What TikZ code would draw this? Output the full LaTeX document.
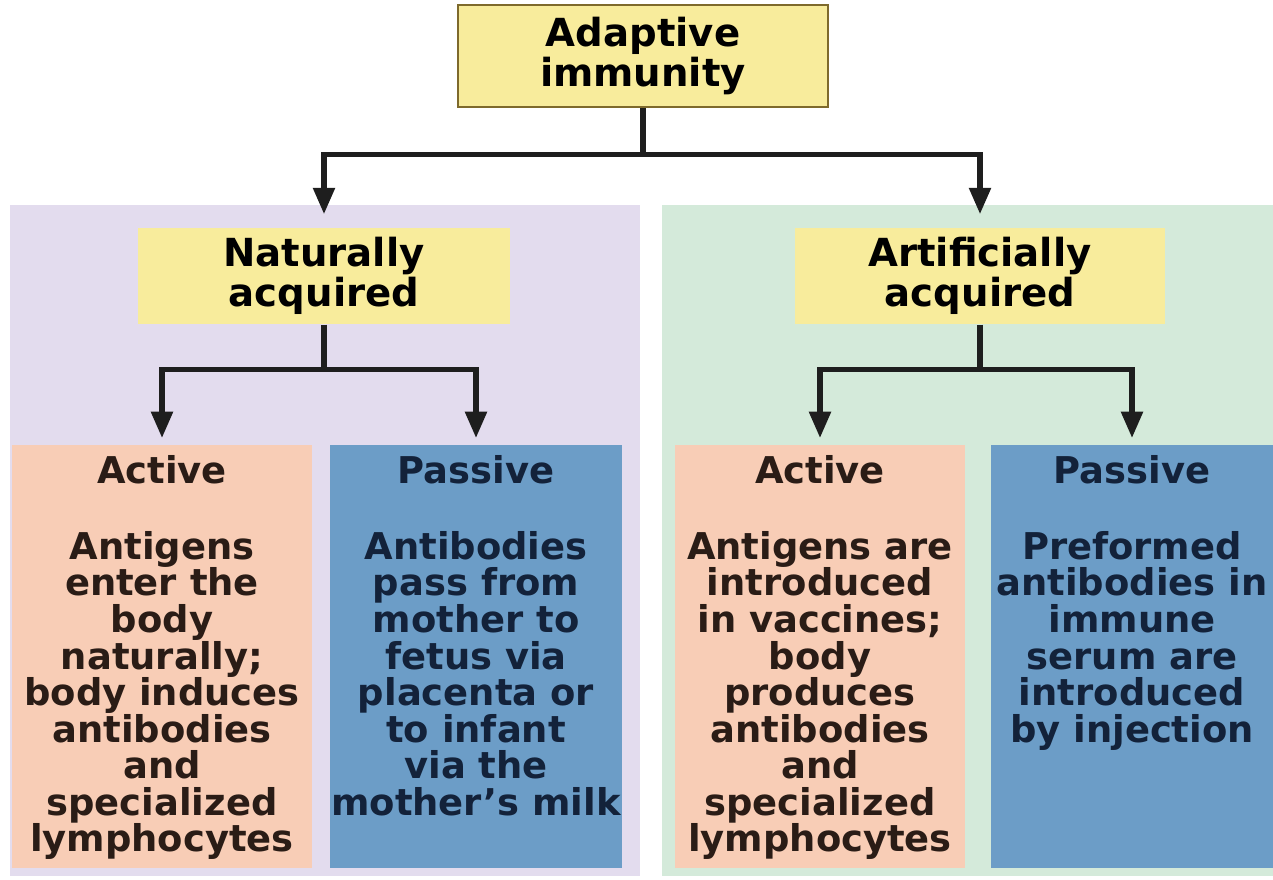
\documentclass[tikz,border=0pt]{standalone}
\usepackage{fontspec}
\setmainfont{DejaVu Sans}
\usetikzlibrary{arrows.meta,positioning}
\definecolor{yellowbox}{HTML}{F8EC9C}
\definecolor{lavender}{HTML}{E3DCEE}
\definecolor{mint}{HTML}{D4EADA}
\definecolor{salmon}{HTML}{F8CDB6}
\definecolor{steel}{HTML}{6C9DC7}
\definecolor{olive}{HTML}{7E6A2C}
\definecolor{linec}{HTML}{1E1E1E}
\definecolor{navy}{HTML}{13223A}
\definecolor{brownink}{HTML}{2A1C16}
\tikzset{conn/.style = {line width=3pt, draw=linec, -{Triangle[width=12pt,length=15pt]}},
         titlebox/.style = {fill=yellowbox, align=center, inner sep=0pt,
                            font=\fontsize{22}{21}\selectfont\bfseries},
         lowbox/.style = {anchor=north, minimum height=8.46cm, inner sep=0pt},
         heading/.style = {font=\fontsize{21}{20.8}\selectfont\bfseries, inner sep=0pt},
         boxtext/.style = {anchor=north, align=center, inner sep=0pt,
                           font=\fontsize{21}{20.8}\selectfont\bfseries}}

\begin{document}
\begin{tikzpicture}[x=0.02cm, y=-0.02cm]
  \useasboundingbox (0,0) rectangle (1273,879);
  \fill[lavender] (10,205) rectangle (640,876);
  \fill[mint] (662,205) rectangle (1273,876);
  \node (adapt) [titlebox, draw=olive, line width=1.5pt, minimum width=7.4cm, minimum height=2.04cm] at (643,56) {Adaptive\\immunity};
  \node (natacq) [titlebox, minimum width=7.44cm, minimum height=1.94cm] at (324,276) {Naturally\\acquired};
  \node (artacq) [titlebox, minimum width=7.4cm, minimum height=1.94cm] at (980,276) {Artificially\\acquired};
  \node (natact) [lowbox, fill=salmon, minimum width=6.0cm] at (162,445) {};
  \node (natpas) [lowbox, fill=steel, minimum width=5.84cm] at (476,445) {};
  \node (artact) [lowbox, fill=salmon, minimum width=5.8cm] at (820,445) {};
  \node (artpas) [lowbox, fill=steel, minimum width=5.66cm] at (1132,445) {};
  \node (natacthead) [heading, text=brownink] at (162,470) {Active};
  \node (natpashead) [heading, text=navy] at (476,470) {Passive};
  \node (artacthead) [heading, text=brownink] at (820,470) {Active};
  \node (artpashead) [heading, text=navy] at (1132,470) {Passive};
  \node (natacttxt) [boxtext, text=brownink] at (162,531) {Antigens\\enter the\\body\\naturally;\\body induces\\antibodies\\and\\specialized\\lymphocytes};
  \node (natpastxt) [boxtext, text=navy] at (476,531) {Antibodies\\pass from\\mother to\\fetus via\\placenta or\\to infant\\via the\\mother's milk};
  \node (artacttxt) [boxtext, text=brownink] at (820,531) {Antigens are\\introduced\\in vaccines;\\body\\produces\\antibodies\\and\\specialized\\lymphocytes};
  \node (artpastxt) [boxtext, text=navy] at (1132,531) {Preformed\\antibodies in\\immune\\serum are\\introduced\\by injection};
  \draw [conn, shorten >=0.26cm] (adapt.south) -- ++(0,46) -| (natacq.north);
  \draw [conn, shorten >=0.26cm] (adapt.south) -- ++(0,46) -| (artacq.north);
  \draw [conn, shorten >=0.14cm] (natacq.south) -- ++(0,45) -| (natact.north);
  \draw [conn, shorten >=0.14cm] (natacq.south) -- ++(0,45) -| (natpas.north);
  \draw [conn, shorten >=0.14cm] (artacq.south) -- ++(0,45) -| (artact.north);
  \draw [conn, shorten >=0.14cm] (artacq.south) -- ++(0,45) -| (artpas.north);
\end{tikzpicture}
\end{document}
